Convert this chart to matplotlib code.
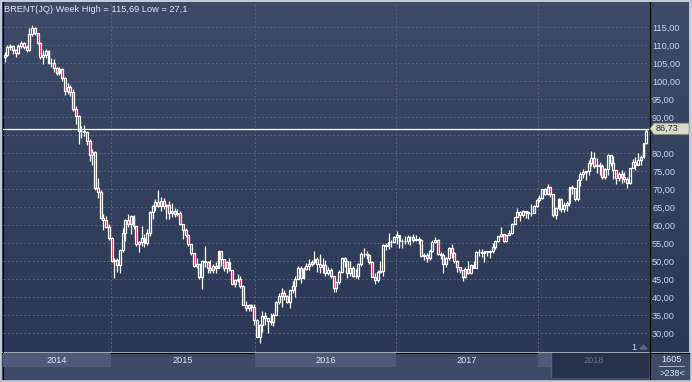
"""
Grafico semanal do BRENT (JQ), abril/2014 a outubro/2018,
no estilo da tela do terminal: velas brancas/vermelhas sobre fundo azul.
"""

import numpy as np
import matplotlib
matplotlib.use("Agg")
import matplotlib.pyplot as plt
from matplotlib.patches import Rectangle, Polygon
from matplotlib.colors import to_rgb
from matplotlib.ticker import FuncFormatter

plt.rcParams["font.family"] = ["Liberation Sans", "DejaVu Sans"]

# ------------------------------------------------------------
# Dados (fechamento, maxima, minima semanais)
# ------------------------------------------------------------
first_open = 106.7

close_2014 = [107.3, 109.5, 109.6, 108.6, 107.9, 109.8, 110.5, 109.4, 108.6, 113.0,
              114.8, 113.3, 110.6, 106.7, 107.2, 108.4, 105.0, 105.0, 103.5, 102.3,
              103.2, 100.8, 97.1, 98.4, 97.0, 92.3, 90.2, 86.2, 86.1, 85.9,
              83.4, 79.4, 80.4, 70.2, 69.1, 61.9, 61.4, 59.5]
high_2014 = [108.0, 110.0, 110.2, 110.0, 108.9, 110.3, 111.1, 110.8, 110.0, 114.7,
             115.69, 115.0, 113.4, 110.8, 108.5, 108.9, 108.5, 106.3, 106.0, 103.8,
             103.8, 103.5, 101.0, 99.4, 98.8, 97.9, 93.0, 90.5, 87.4, 87.8,
             85.9, 84.0, 81.2, 80.5, 73.0, 69.8, 63.0, 62.5]
low_2014 = [105.3, 107.0, 108.5, 107.5, 106.8, 107.4, 109.2, 108.9, 108.0, 108.3,
            112.6, 112.8, 110.3, 106.2, 104.6, 106.3, 104.6, 103.8, 102.5, 101.6,
            101.8, 100.1, 96.2, 96.5, 95.8, 91.6, 88.1, 82.6, 84.1, 84.6,
            82.1, 77.9, 76.8, 69.8, 67.5, 61.6, 58.5, 59.2]

close_2015 = [56.4, 50.1, 50.2, 48.8, 53.0, 57.8, 61.5, 60.2, 62.6, 59.7,
              54.7, 55.3, 56.4, 55.0, 57.9, 63.5, 65.3, 66.5, 65.4, 66.8,
              65.4, 65.6, 63.3, 63.9, 63.0, 63.3, 60.3, 58.7, 57.1, 54.6,
              52.2, 48.6, 49.2, 45.5, 50.1, 49.6, 48.1, 47.5, 48.6, 48.1,
              52.7, 50.5, 48.0, 49.6, 47.4, 43.6, 44.7, 44.9, 43.0, 37.9,
              36.9, 37.9]
high_2015 = [60.3, 56.6, 50.9, 50.8, 53.2, 59.1, 61.6, 63.0, 62.8, 62.7,
             59.8, 55.6, 59.7, 57.6, 59.0, 64.0, 65.5, 67.1, 69.6, 67.7,
             67.6, 65.8, 66.6, 66.0, 64.6, 64.5, 63.9, 60.3, 59.2, 57.3,
             54.8, 52.3, 50.9, 49.3, 50.4, 54.3, 50.0, 50.4, 49.3, 49.6,
             53.1, 52.9, 50.5, 50.0, 50.9, 47.6, 45.0, 46.4, 45.9, 43.3,
             38.9, 38.1]
low_2015 = [55.8, 49.7, 45.2, 47.0, 46.7, 52.5, 55.6, 59.5, 57.4, 58.8,
            54.1, 52.5, 54.3, 53.9, 54.4, 57.0, 61.7, 63.9, 64.9, 63.8,
            64.4, 61.6, 61.6, 62.2, 62.1, 62.6, 60.0, 56.1, 56.6, 54.1,
            51.8, 48.3, 48.1, 45.1, 42.2, 48.4, 46.8, 46.8, 46.8, 46.8,
            48.0, 48.7, 47.2, 46.6, 47.2, 43.4, 42.9, 44.2, 42.5, 37.8,
            36.0, 36.1]

close_2016 = [37.3, 33.6, 28.9, 32.2, 34.7, 34.1, 33.4, 33.0, 35.1, 38.7,
              40.4, 41.2, 40.4, 38.7, 41.9, 43.1, 45.1, 48.1, 45.4, 47.8,
              48.7, 49.3, 49.6, 50.5, 49.2, 48.4, 49.0, 46.8, 47.6, 45.7,
              42.5, 44.3, 47.0, 50.9, 49.9, 46.8, 48.0, 45.8, 45.9, 49.2,
              51.9, 51.95, 51.8, 49.7, 45.6, 44.8, 46.9, 47.2, 54.5, 54.3,
              55.2, 55.2, 56.8]
high_2016 = [38.0, 38.0, 34.0, 32.4, 36.2, 35.9, 34.3, 35.6, 35.6, 38.9,
             41.1, 42.5, 42.0, 40.6, 42.0, 44.5, 45.9, 48.5, 48.5, 48.2,
             49.5, 50.5, 50.3, 52.9, 51.1, 51.9, 50.8, 50.3, 48.4, 48.0,
             45.8, 44.5, 47.4, 51.2, 51.0, 50.0, 49.9, 48.5, 47.7, 49.5,
             52.6, 53.7, 52.9, 51.9, 49.9, 46.8, 47.4, 49.9, 54.6, 55.1,
             57.9, 55.8, 56.9]
low_2016 = [36.1, 32.2, 28.8, 27.1, 30.3, 32.1, 30.0, 32.2, 31.9, 35.0,
            38.0, 37.3, 39.3, 38.3, 37.0, 41.2, 40.1, 44.9, 43.8, 44.9,
            47.6, 47.6, 48.5, 49.2, 46.9, 46.7, 46.7, 45.8, 46.0, 45.2,
            41.5, 41.5, 43.6, 46.6, 48.4, 45.4, 45.7, 45.6, 45.2, 44.9,
            48.6, 51.0, 50.5, 49.3, 45.5, 43.6, 44.3, 46.8, 45.9, 53.0,
            53.2, 53.8, 54.9]

close_2017 = [57.1, 55.5, 55.5, 55.5, 56.8, 56.7, 55.8, 56.0, 55.9, 51.4,
              51.8, 50.8, 52.8, 55.2, 55.9, 52.0, 51.7, 49.1, 50.8, 53.6,
              52.2, 49.95, 48.2, 47.4, 45.5, 47.9, 46.7, 48.9, 48.1, 52.5,
              52.4, 52.1, 52.7, 52.4, 52.75, 53.8, 55.6, 56.9, 57.5, 55.6,
              57.2, 57.75, 60.4, 62.1, 63.5, 62.7, 63.9, 63.7, 63.4, 63.2,
              65.25, 66.9]
high_2017 = [58.4, 57.2, 56.2, 57.0, 57.2, 57.0, 57.5, 57.1, 56.8, 56.2,
             52.2, 52.1, 53.2, 55.9, 56.6, 56.0, 52.4, 52.1, 51.1, 53.9,
             54.7, 52.4, 50.4, 48.4, 47.5, 48.2, 50.1, 49.1, 50.0, 52.9,
             53.4, 53.2, 52.8, 52.9, 53.0, 54.9, 55.7, 56.9, 59.5, 57.6,
             57.3, 58.5, 60.5, 62.2, 64.7, 64.0, 64.2, 64.0, 63.9, 65.8,
             65.5, 67.1]
low_2017 = [54.7, 53.6, 53.6, 54.8, 54.6, 54.4, 55.2, 55.6, 54.7, 51.1,
            50.3, 49.7, 50.3, 52.5, 55.0, 51.6, 50.6, 46.6, 48.2, 50.4,
            50.9, 49.4, 47.0, 46.8, 44.4, 45.3, 46.4, 46.4, 48.0, 48.0,
            51.5, 51.1, 49.7, 51.4, 50.7, 52.2, 53.4, 55.2, 56.7, 55.4,
            55.3, 57.1, 57.6, 60.3, 62.1, 61.2, 62.3, 61.9, 61.6, 62.6,
            63.2, 65.1]

close_2018 = [67.6, 69.9, 68.6, 70.5, 68.6, 62.8, 64.8, 67.3, 64.4, 65.5,
              66.2, 70.5, 70.3, 67.1, 72.6, 74.1, 74.6, 74.9, 77.1, 78.5,
              76.4, 76.8, 76.5, 73.4, 75.6, 79.4, 77.1, 75.3, 73.1, 74.3,
              73.2, 72.8, 71.8, 75.8, 77.4, 76.8, 78.1, 78.8, 82.7, 86.0]
high_2018 = [68.3, 70.05, 70.4, 71.3, 70.6, 68.7, 65.0, 67.6, 67.6, 66.3,
             66.6, 70.6, 71.0, 70.4, 72.9, 74.8, 75.5, 75.0, 78.0, 80.5,
             80.2, 78.5, 77.5, 77.0, 75.9, 79.6, 79.5, 79.2, 75.4, 74.8,
             75.3, 74.7, 73.3, 75.8, 78.4, 78.8, 80.1, 79.4, 82.8, 86.6]
low_2018 = [66.4, 67.3, 68.3, 68.4, 67.8, 62.1, 61.8, 64.1, 63.6, 63.5,
            63.8, 65.4, 68.6, 66.6, 66.8, 70.9, 73.0, 72.6, 73.8, 76.4,
            75.9, 74.5, 74.0, 72.8, 72.7, 73.9, 76.4, 72.7, 71.3, 72.1,
            71.7, 71.9, 70.3, 71.4, 75.8, 75.4, 76.7, 76.6, 78.5, 82.6]

last_price = 86.73

year_labels = ["2014", "2015", "2016", "2017", "2018"]
year_edges = [38.8, 91.3, 142.7, 194.5]
scroll_start = 199.3
y_ticks = list(range(30, 116, 5))

# ------------------------------------------------------------
# Paleta
# ------------------------------------------------------------
COR_TOPO = "#3e4b67"
COR_BASE = "#2b3855"
COR_FAIXA = "#3e4b66"
COR_FAIXA_CLARA = "#4e5b77"
COR_GRADE = "#56627d"
COR_TEXTO = "#c4d5f2"
COR_VERMELHO = "#e8123c"

closes = np.array(close_2014 + close_2015 + close_2016 + close_2017 + close_2018)
highs = np.array(high_2014 + high_2015 + high_2016 + high_2017 + high_2018)
lows = np.array(low_2014 + low_2015 + low_2016 + low_2017 + low_2018)
opens = np.concatenate([[first_open], closes[:-1]])
x = np.arange(len(closes))
up = closes >= opens

W, H = 692, 382
fig = plt.figure(figsize=(W / 100, H / 100), dpi=100)
fig.patch.set_facecolor("#c3cad5")

# fundo em pixels
bg = fig.add_axes([0, 0, 1, 1])
grad = np.linspace(0, 1, 256)[:, None, None]
topo = np.array(to_rgb(COR_TOPO))
base = np.array(to_rgb(COR_BASE))
img = topo + (base - topo) * grad
bg.imshow(img, extent=(2, 689, 352, 2), aspect="auto", interpolation="bilinear")
bg.add_patch(Rectangle((2, 353), 687, 26, color=COR_FAIXA))
bg.set_xlim(0, W)
bg.set_ylim(H, 0)
bg.axis("off")
bg.plot([2.5, 2.5], [2, 379], color="black", lw=0.8)
bg.plot([649.5, 649.5], [2, 379], color="black", lw=0.8)
bg.plot([2, 689], [352.5, 352.5], color="black", lw=0.8)

# titulo
titulo = "BRENT(JQ) Week High = %s Low = %s" % (
    f"{highs.max():.2f}".replace(".", ","), f"{lows.min():g}".replace(".", ","))
bg.text(4, 10, titulo, va="center", ha="left", fontsize=6.7, color="#dde3ee")

# painel direito inferior
bg.text(672, 359, "1605", ha="center", va="center", fontsize=6.6, color="#dfe6f0")
bg.plot([659, 684], [366, 366], color="#b8c2d2", lw=0.6)
bg.text(672, 373, ">238<", ha="center", va="center", fontsize=6.6, color="#dfe6f0")
bg.text(634, 347, "1", ha="center", va="center", fontsize=6.6, color=COR_TEXTO)
bg.add_patch(Polygon([(640, 349), (643.5, 345), (647, 349)], color="#5a6781"))

# ------------------------------------------------------------
# Grafico principal
# ------------------------------------------------------------
ax = fig.add_axes([3 / W, 1 - 352 / H, 646 / W, 349 / H])
ax.set_facecolor("none")
ax.set_xlim(-0.6, 235.0)
ax.set_ylim(24.72, 121.67)
for s in ax.spines.values():
    s.set_visible(False)


def rotulo_preco(v, p):
    # o rotulo 85,00 fica escondido atras da etiqueta do ultimo preco
    if abs(v - last_price) < 2.5:
        return ""
    return f"{v:.2f}".replace(".", ",")


ax.yaxis.tick_right()
ax.set_yticks(y_ticks)
ax.yaxis.set_major_formatter(FuncFormatter(rotulo_preco))
ax.tick_params(axis="y", length=0, pad=2.2, labelsize=6.6, labelcolor=COR_TEXTO)
ax.set_xticks(year_edges)
ax.tick_params(axis="x", length=0, labelbottom=False)
ax.grid(True, color=COR_GRADE, lw=0.75, ls=(0, (2, 2)))
ax.set_axisbelow(True)

ax.vlines(x, lows, highs, color="white", lw=0.9, zorder=2)
ax.bar(x[up], (closes - opens)[up], bottom=opens[up], width=0.7,
       facecolor="#34425f", edgecolor="white", linewidth=0.9, zorder=3)
ax.bar(x[~up], (closes - opens)[~up], bottom=opens[~up], width=0.7,
       facecolor=COR_VERMELHO, edgecolor="white", linewidth=0.9, zorder=3)

ax.axhline(last_price, color="white", lw=0.9, zorder=4)

# etiqueta do ultimo preco
tr = ax.get_yaxis_transform()
h = 1.55
ax.add_patch(Polygon([(1.0015, last_price), (1.008, last_price + h), (1.062, last_price + h),
                      (1.062, last_price - h), (1.008, last_price - h)],
                     closed=True, transform=tr, clip_on=False, facecolor="#dcdcc6",
                     edgecolor="#8d8f80", lw=0.6, zorder=10))
ax.text(1.011, last_price, f"{last_price:.2f}".replace(".", ","), transform=tr,
        va="center", ha="left", fontsize=6.6, color="#1a2844", zorder=11, clip_on=False)

# ------------------------------------------------------------
# Faixa dos anos
# ------------------------------------------------------------
bx = fig.add_axes([3 / W, 1 - 378 / H, 646 / W, 25 / H], sharex=ax)
bx.set_ylim(0, 1)
bx.axis("off")
limites = [ax.get_xlim()[0]] + year_edges + [ax.get_xlim()[1]]
for k in (0, 2):
    bx.add_patch(Rectangle((limites[k], 0.44), limites[k + 1] - limites[k], 0.56,
                           color=COR_FAIXA_CLARA, lw=0))
bx.add_patch(Rectangle((limites[4], 0.44), scroll_start - limites[4], 0.56,
                       color=COR_FAIXA_CLARA, lw=0))
bx.add_patch(Rectangle((scroll_start, 0), limites[5] - scroll_start, 1,
                       color="#253149", lw=0))
bx.axvline(scroll_start, color="#56637c", lw=1)
for k, ano in enumerate(year_labels):
    meio = (limites[k] + limites[k + 1]) / 2
    cor = "#66758d" if ano == "2018" else "#dde5f0"
    bx.text(meio, 0.70, ano, ha="center", va="center", fontsize=6.6, color=cor)

plt.savefig("out.png", dpi=100, facecolor=fig.get_facecolor())
plt.close()
